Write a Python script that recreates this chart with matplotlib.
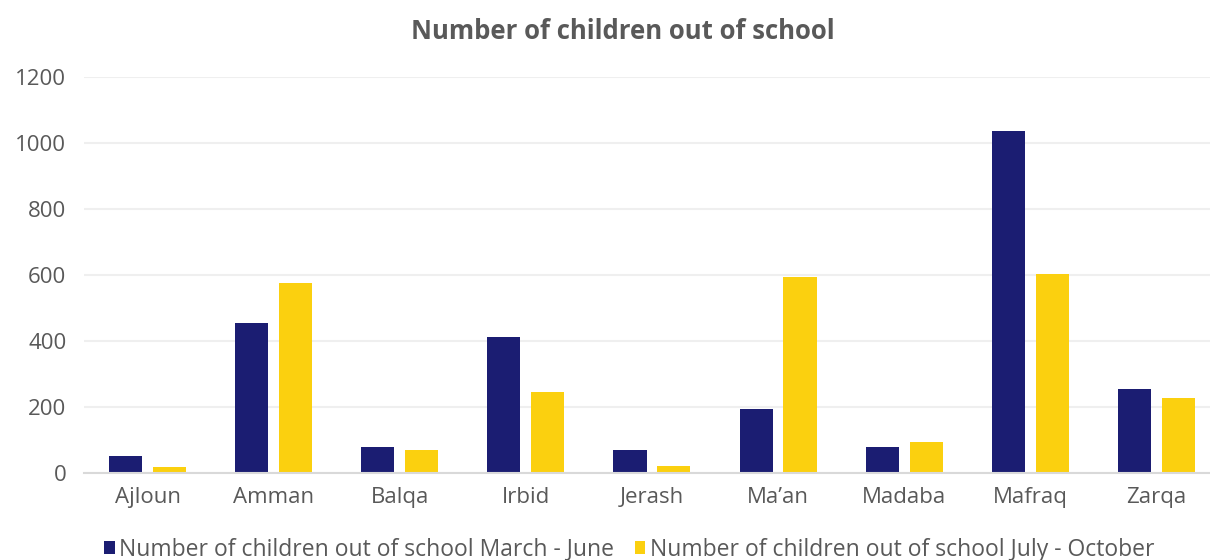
import matplotlib.pyplot as plt
import numpy as np

regions = ["Ajloun", "Amman", "Balqa", "Irbid", "Jerash", "Ma\u2019an", "Madaba", "Mafraq", "Zarqa"]
march_june = [53, 455, 80, 412, 71, 196, 79, 1037, 255]
july_october = [20, 577, 71, 247, 22, 595, 96, 604, 229]

navy = "#1B1D72"
yellow = "#FBD00F"
grey = "#595959"

plt.rcParams["font.family"] = ["Open Sans", "DejaVu Sans"]

fig = plt.figure(figsize=(12.1, 5.6), dpi=100)
ax = fig.add_axes([0.0698, 0.155, 0.938, 0.707])

x = np.arange(len(regions))
w = 0.262
ax.bar(x - 0.174, march_june, w, color=navy, label="Number of children out of school March - June")
ax.bar(x + 0.174, july_october, w, color=yellow, label="Number of children out of school July - October")

ax.set_xlim(-0.5, len(regions) - 0.5)
ax.set_ylim(0, 1200)
ax.set_yticks(range(0, 1201, 200))
ax.set_xticks(x)
ax.set_xticklabels(regions)
ax.yaxis.grid(True, color="#EFEFEF", linewidth=1.5)
ax.set_axisbelow(True)
for s in ["top", "right", "left"]:
    ax.spines[s].set_visible(False)
ax.spines["bottom"].set_color("#D9D9D9")
ax.spines["bottom"].set_linewidth(1.5)
ax.tick_params(length=0, labelsize=16, colors=grey, pad=10)
ax.tick_params(axis="y", pad=13)

fig.suptitle("Number of children out of school", x=0.515, y=0.968, fontsize=18.5,
             fontweight="bold", color=grey)

fig.legend(loc="lower center", bbox_to_anchor=(0.52, -0.04), ncol=2, frameon=False,
           fontsize=16.5, labelcolor=grey, handlelength=0.45, handleheight=0.45,
           handletextpad=0.2, columnspacing=0.9)

fig.savefig("out.png", dpi=100)
